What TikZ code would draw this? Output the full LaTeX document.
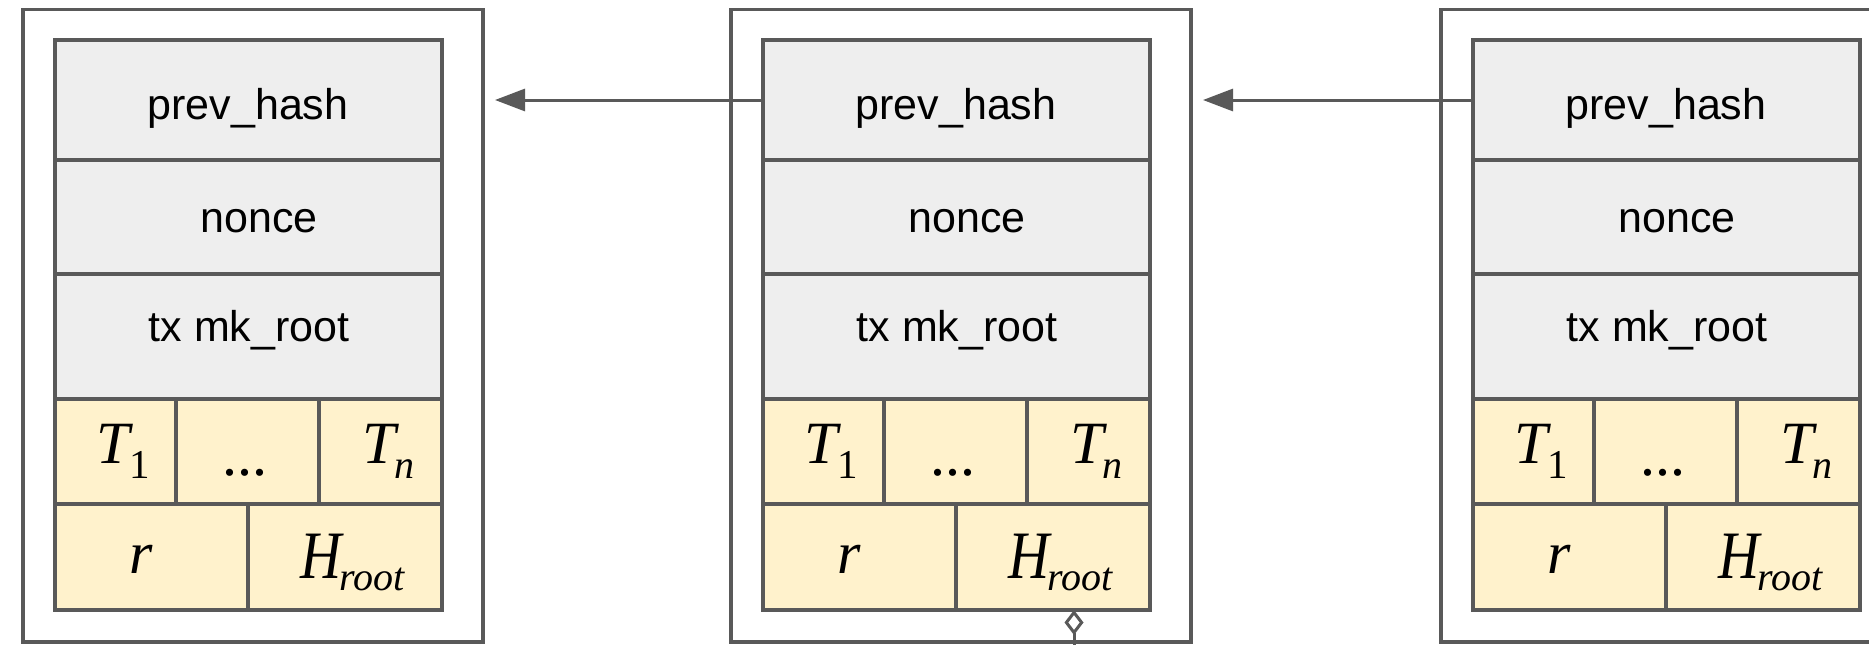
\documentclass[tikz,border=0pt]{standalone}
\usepackage{fontspec}
\setmainfont{Liberation Sans}
\newfontfamily\tnr{Liberation Serif}
\usetikzlibrary{arrows.meta}
\definecolor{ln}{HTML}{595959}
\definecolor{gfill}{HTML}{EEEEEE}
\definecolor{yfill}{HTML}{FFF2CC}
\begin{document}
\begin{tikzpicture}[x=1pt,y=-1pt,
 cellg/.style={draw=ln, line width=3.5pt, fill=gfill, rectangle, inner sep=0pt, outer sep=0pt, anchor=north west},
 celly/.style={cellg, fill=yfill},
 outerbox/.style={draw=ln, line width=3.5pt, rectangle, inner sep=0pt, outer sep=0pt, anchor=north west},
 lbl/.style={inner sep=0pt, anchor=base, font=\fontsize{43}{50}\selectfont},
 mlbl/.style={inner sep=0pt, anchor=base west, font=\tnr\fontsize{60}{62}\selectfont},
 arr/.style={draw=ln, line width=3pt, -{Triangle[length=30pt,width=22pt]}},
 diam/.style={draw=ln, line width=3pt, -{Diamond[open,length=25pt,width=19pt]}},
]
\useasboundingbox (0,0) rectangle (1869,645);
\clip (0,0) rectangle (1869,645);
\fill[white] (0,0) rectangle (1869,645);
\foreach \x/\n in {55/b1,763/b2,1473/b3}{
 \node[outerbox, minimum width=460pt, minimum height=632.5pt] (\n-out) at (\x-32, 9.5) {};
 \node[cellg, minimum width=387pt, minimum height=120pt] (\n-ph) at (\x,40) {};
 \node[cellg, minimum width=387pt, minimum height=114pt] (\n-no) at (\x,160) {};
 \node[cellg, minimum width=387pt, minimum height=125pt] (\n-tx) at (\x,274) {};
 \node[celly, minimum width=121pt, minimum height=105pt] (\n-t1) at (\x,399) {};
 \node[celly, minimum width=143pt, minimum height=105pt] (\n-td) at (\x+121,399) {};
 \node[celly, minimum width=123pt, minimum height=105pt] (\n-tn) at (\x+264,399) {};
 \node[celly, minimum width=193pt, minimum height=106pt] (\n-r) at (\x,504) {};
 \node[celly, minimum width=194pt, minimum height=106pt] (\n-hr) at (\x+193,504) {};
 \node[lbl] (\n-lph) at (\x+193, 119) {prev\_hash};
 \node[lbl] (\n-lno) at (\x+204, 232.5) {nonce};
 \node[lbl] (\n-ltx) at (\x+194, 341.5) {tx mk\_root};
 \node[mlbl] (\n-lt1) at (\x+41, 463) {\itshape T\kern0pt\raisebox{-15pt}{\fontsize{41}{41}\selectfont\upshape 1}};
 \node[mlbl, anchor=base] (\n-ltd) at (\x+190, 475) {...};
 \node[mlbl] (\n-ltn) at (\x+307, 463) {\itshape T\kern-1pt\raisebox{-15pt}{\fontsize{40}{40}\selectfont n}};
 \node[mlbl, anchor=base] (\n-lr) at (\x+86, 573) {\itshape r};
 \node[mlbl] (\n-lhr) at (\x+245, 578) {\fontsize{57}{60}\selectfont\itshape\scalebox{1}[1.19]{H}\kern-2pt\raisebox{-12pt}{\fontsize{40}{40}\selectfont root}};
}
\coordinate (a1) at ([xshift=12pt]b1-out.east |- b2-ph.west);
\draw[arr] (b2-ph.west) -- (a1);
\coordinate (a2) at ([xshift=12pt]b2-out.east |- b3-ph.west);
\draw[arr] (b3-ph.west) -- (a2);
\coordinate (dsrc) at (1074, 700);
\draw[diam] (dsrc) -- (dsrc |- b2-hr.south);
\end{tikzpicture}
\end{document}
